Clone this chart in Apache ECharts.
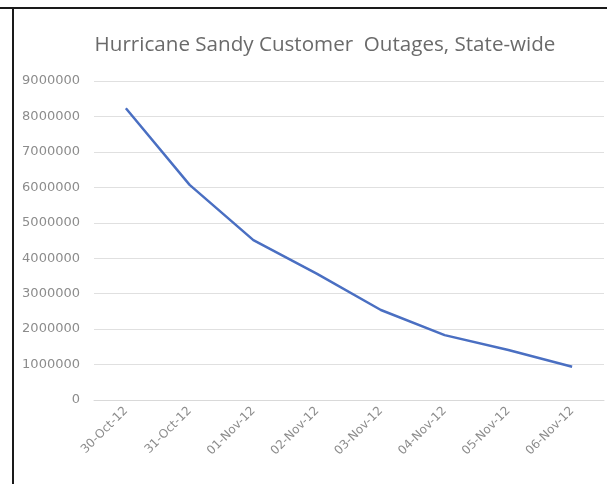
<!DOCTYPE html>
<html>
<head>
<meta charset="utf-8">
<script src="https://cdn.jsdelivr.net/npm/echarts@6/dist/echarts.min.js"></script>
<style>
  html, body { margin: 0; padding: 0; background: #fff; }
  #chart { width: 607px; height: 484px; }
</style>
</head>
<body>
<div id="chart"></div>
<script>
// Customer outages per day after Hurricane Sandy
const dates = ['30-Oct-12', '31-Oct-12', '01-Nov-12', '02-Nov-12', '03-Nov-12', '04-Nov-12', '05-Nov-12', '06-Nov-12'];
const outages = [8230000, 6070000, 4510000, 3560000, 2540000, 1830000, 1410000, 940000];
const yTicks = { min: 0, max: 9000000, interval: 1000000 };

const chart = echarts.init(document.getElementById('chart'));
chart.setOption({
  backgroundColor: '#fff',
  animation: false,
  title: {
    text: 'Hurricane Sandy Customer  Outages, State-wide',
    left: 320,
    top: 30,
    textAlign: 'center',
    textStyle: { fontFamily: 'Open Sans', fontWeight: 'normal', fontSize: 20.6, color: '#6a6a6a' }
  },
  graphic: [
    { type: 'rect', shape: { x: 0, y: 7, width: 607, height: 2 }, style: { fill: '#1a1a1a' } },
    { type: 'rect', shape: { x: 12, y: 7, width: 2, height: 477 }, style: { fill: '#1a1a1a' } }
  ],
  grid: { left: 94, right: 3, top: 81, bottom: 84 },
  xAxis: {
    type: 'category',
    data: dates,
    boundaryGap: true,
    axisLine: { lineStyle: { color: '#d9d9d9', width: 1 } },
    axisTick: { show: false },
    axisLabel: {
      rotate: 45, margin: 9, interval: 0,
      fontFamily: 'DejaVu Sans', fontSize: 12, color: '#8c8c8c'
    }
  },
  yAxis: {
    type: 'value',
    min: yTicks.min, max: yTicks.max, interval: yTicks.interval,
    axisLine: { show: false },
    axisTick: { show: false },
    splitLine: { lineStyle: { color: '#e0e0e0', width: 1 } },
    axisLabel: {
      margin: 14,
      formatter: (v) => String(v),
      fontFamily: 'DejaVu Sans', fontSize: 13, color: '#8c8c8c'
    }
  },
  series: [{
    type: 'line',
    data: outages,
    showSymbol: false,
    lineStyle: { color: '#4a6fc2', width: 2.5 },
    itemStyle: { color: '#4a6fc2' }
  }]
});
</script>
</body>
</html>
